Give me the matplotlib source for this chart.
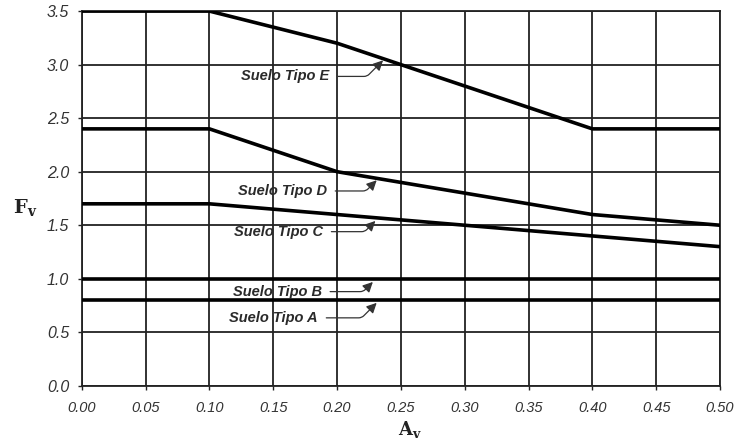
import numpy as np
import matplotlib
matplotlib.use("Agg")
import matplotlib.pyplot as plt

plt.rcParams['font.family'] = ['Liberation Sans', 'DejaVu Sans']
plt.rcParams['mathtext.fontset'] = 'dejavuserif'

# Fv coefficient vs Av, for each soil type
av = [0.0, 0.1, 0.2, 0.3, 0.4, 0.5]
fv_e = [3.5, 3.5, 3.2, 2.8, 2.4, 2.4]
fv_d = [2.4, 2.4, 2.0, 1.8, 1.6, 1.5]
fv_c = [1.7, 1.7, 1.6, 1.5, 1.4, 1.3]
fv_b = [1.0, 1.0, 1.0, 1.0, 1.0, 1.0]
fv_a = [0.8, 0.8, 0.8, 0.8, 0.8, 0.8]

labels = ['Suelo Tipo E', 'Suelo Tipo D', 'Suelo Tipo C', 'Suelo Tipo B', 'Suelo Tipo A']
# where the label text ends, and where its arrow points
label_pos = [(0.194, 2.89), (0.192, 1.82), (0.189, 1.44), (0.188, 0.88), (0.185, 0.635)]
arrow_tip = [(0.236, 3.04), (0.231, 1.92), (0.230, 1.54), (0.228, 0.97), (0.231, 0.775)]

xticks = np.arange(0, 0.501, 0.05)
yticks = np.arange(0, 3.51, 0.5)

fig = plt.figure(figsize=(7.37, 4.44), dpi=100)
ax = fig.add_axes([0.111, 0.131, 0.866, 0.844])

for fv in [fv_e, fv_d, fv_c, fv_b, fv_a]:
    ax.plot(av, fv, color='black', lw=2.6, solid_capstyle='butt', zorder=3)

ax.set_xlim(0, 0.5)
ax.set_ylim(0, 3.5)
ax.set_xticks(xticks)
ax.set_yticks(yticks)
ax.set_xticklabels(['%.2f' % t for t in xticks], fontstyle='italic', fontsize=10.5, color='#333333')
ax.set_yticklabels(['%.1f' % t for t in yticks], fontstyle='italic', fontsize=11.5, color='#333333')
ax.tick_params(axis='x', length=3, width=1, color='#222222', pad=8)
ax.tick_params(axis='y', length=3, width=1, color='#222222', pad=6)
ax.grid(True, color='#222222', lw=1.3)
for s in ax.spines.values():
    s.set_color('#222222')
    s.set_linewidth(1.3)

for lab, (tx, ty), (px, py) in zip(labels, label_pos, arrow_tip):
    ax.annotate(lab, xy=(px, py), xytext=(tx, ty), ha='right', va='center',
                fontsize=10.5, fontstyle='italic', fontweight='bold', color='#2a2a2a',
                arrowprops=dict(arrowstyle='-|>', color='#333333', lw=0.9,
                                mutation_scale=15, shrinkA=4, shrinkB=0,
                                connectionstyle='angle,angleA=0,angleB=45,rad=3'),
                zorder=4)

fig.text(0.017, 0.52, r'$\mathbf{F}_{\mathbf{v}}$', fontsize=14, color='#222222')
fig.text(0.54, 0.02, r'$\mathbf{A}_{\mathbf{v}}$', fontsize=13, color='#222222')

fig.savefig('out.png', dpi=100, facecolor='white')
